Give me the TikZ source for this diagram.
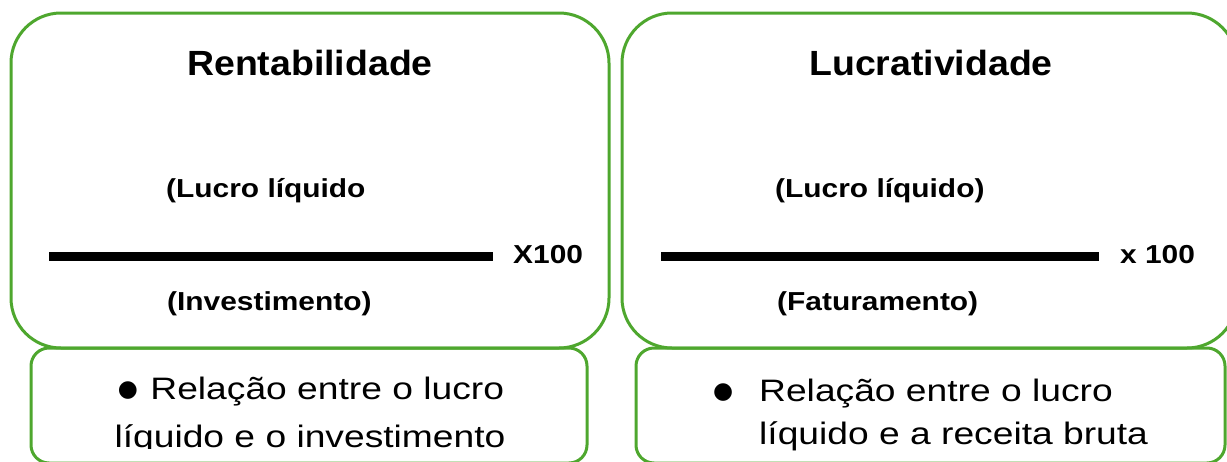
\documentclass[tikz,border=0pt]{standalone}
\usepackage{fontspec}
\setmainfont{Liberation Sans}
\newfontfamily\headfont[FakeStretch=1.07]{Liberation Sans}
\newfontfamily\labelfont[FakeStretch=1.15]{Liberation Sans}
\newfontfamily\bodyfont[FakeStretch=1.2]{Liberation Sans}
\newfontfamily\dotfont{DejaVu Sans}
\newcommand{\notedot}{\raisebox{3pt}{\dotfont\fontsize{23}{28}\selectfont ●}}
\definecolor{boxgreen}{RGB}{78,167,46}

\begin{document}
\begin{tikzpicture}[x=1pt,y=-1pt,
  panel/.style={draw=boxgreen,line width=3pt,rounded corners=50pt},
  notebox/.style={draw=boxgreen,line width=3pt,rounded corners=18pt},
  fracbar/.style={line width=9pt},
  heading/.style={inner sep=0pt,font=\headfont\fontsize{35}{42}\selectfont\bfseries},
  term/.style={inner sep=0pt,font=\labelfont\fontsize{26}{31}\selectfont\bfseries},
  note/.style={inner sep=0pt,font=\bodyfont\fontsize{31}{37}\selectfont}]
\useasboundingbox (0,0) rectangle (1227,461);
% frames
\draw[panel] (11,13) rectangle (609,348);
\draw[panel] (622,13) rectangle (1237,348);
\draw[notebox] (31,348) rectangle (587,463);
\draw[notebox] (636,348) rectangle (1225,463);
% rentabilidade
\node[heading,anchor=base] (rentTitle) at (310,75) {Rentabilidade};
\node[term,anchor=base west] (rentNum) at (166,197) {(Lucro líquido};
\coordinate (rentL) at (49,256.5);
\coordinate (rentR) at (493,256.5);
\draw[fracbar] (rentL) -- (rentR);
\node[term,anchor=base west] (rentMul) at (513,263) {X100};
\node[term,anchor=base west] (rentDen) at (167,310) {(Investimento)};
\begin{scope}
\clip (0,0) rectangle (1227,448);
\node[note,anchor=base] (rentNoteA) at (311,399) {\notedot\hspace{0.4em}Relação entre o lucro};
\node[note,anchor=base] (rentNoteB) at (310,447) {líquido e o investimento};
\end{scope}
% lucratividade
\node[heading,anchor=base] (lucrTitle) at (931,75) {Lucratividade};
\node[term,anchor=base west] (lucrNum) at (775,197) {(Lucro líquido)};
\coordinate (lucrL) at (661,256.5);
\coordinate (lucrR) at (1099,256.5);
\draw[fracbar] (lucrL) -- (lucrR);
\node[term,anchor=base west] (lucrMul) at (1120,263) {x 100};
\node[term,anchor=base west] (lucrDen) at (777,310) {(Faturamento)};
\node[note,anchor=base west] (lucrDot) at (713,401) {\notedot};
\node[note,anchor=base west] (lucrNoteA) at (759,401) {Relação entre o lucro};
\node[note,anchor=base west] (lucrNoteB) at (759,444) {líquido e a receita bruta};
\end{tikzpicture}
\end{document}
